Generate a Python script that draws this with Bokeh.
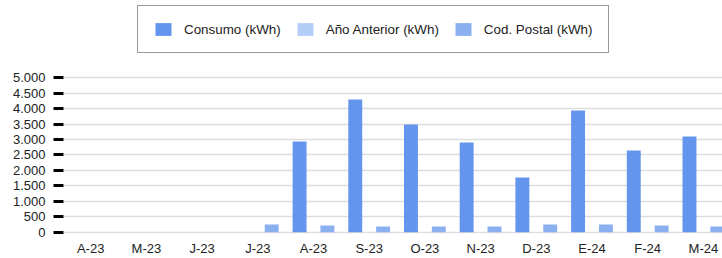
from bokeh.plotting import figure
from bokeh.models import ColumnDataSource, Range1d, FixedTicker, Legend, LegendItem
from bokeh.transform import dodge
from bokeh.embed import file_html
from bokeh.resources import INLINE

# ---- data ----
months = ["A-23", "M-23", "J-23", "J-23", "A-23", "S-23", "O-23", "N-23", "D-23", "E-24", "F-24", "M-24"]
consumo = [0, 0, 0, 0, 2936, 4296, 3487, 2904, 1770, 3940, 2645, 3098]
anio_anterior = [0, 0, 0, 0, 0, 0, 0, 0, 0, 0, 0, 0]
cod_postal = [0, 0, 0, 250, 215, 185, 185, 185, 250, 250, 215, 185]
y_ticks = [0, 500, 1000, 1500, 2000, 2500, 3000, 3500, 4000, 4500, 5000]
y_tick_labels = ["0", "500", "1.000", "1.500", "2.000", "2.500", "3.000", "3.500", "4.000", "4.500", "5.000"]
series_names = ["Consumo (kWh)", "Año Anterior (kWh)", "Cod. Postal (kWh)"]

FONT = "Liberation Sans"
TEXT = "#222222"
C_CONSUMO = "#6495ed"
C_ANIO = "#b3cdf6"
C_COD = "#8ab0f0"

xs = list(range(len(months)))
src = ColumnDataSource(dict(x=xs, consumo=consumo, anio=anio_anterior, cod=cod_postal))

p = figure(width=722, height=258, output_backend="svg", toolbar_location=None,
           x_range=Range1d(-0.488, 11.343), y_range=Range1d(-42, 7503),
           min_border_left=63, min_border_right=0, min_border_top=0, min_border_bottom=0)
p.outline_line_color = None
p.background_fill_color = "white"
p.border_fill_color = "white"

w = 0.25
r1 = p.vbar(x=dodge("x", -0.25), top="consumo", width=w, source=src, fill_color=C_CONSUMO, line_color=None)
r2 = p.vbar(x=dodge("x", 0.0), top="anio", width=w, source=src, fill_color=C_ANIO, line_color=None)
r3 = p.vbar(x=dodge("x", 0.25), top="cod", width=w, source=src, fill_color=C_COD, line_color=None)

# y axis
p.yaxis.ticker = FixedTicker(ticks=y_ticks)
p.yaxis.major_label_overrides = {t: l for t, l in zip(y_ticks, y_tick_labels)}
p.yaxis.axis_line_color = None
p.yaxis.major_tick_line_color = "black"
p.yaxis.major_tick_line_width = 3
p.yaxis.major_tick_out = 10
p.yaxis.major_tick_in = 0
p.yaxis.minor_tick_line_color = None
p.yaxis.major_label_standoff = 8
p.yaxis.major_label_text_font = FONT
p.yaxis.major_label_text_font_size = "13px"
p.yaxis.major_label_text_color = TEXT

# x axis
p.xaxis.ticker = FixedTicker(ticks=xs)
p.xaxis.major_label_overrides = {i: m for i, m in zip(xs, months)}
p.xaxis.axis_line_color = None
p.xaxis.major_tick_line_color = None
p.xaxis.minor_tick_line_color = None
p.xaxis.major_tick_out = 0
p.xaxis.major_tick_in = 0
p.xaxis.major_label_standoff = 7
p.xaxis.major_label_text_font = FONT
p.xaxis.major_label_text_font_size = "13px"
p.xaxis.major_label_text_color = TEXT

p.xgrid.grid_line_color = None
p.ygrid.grid_line_color = "#dddddd"
p.ygrid.grid_line_width = 1.3

legend = Legend(items=[LegendItem(label=series_names[0], renderers=[r1]),
                       LegendItem(label=series_names[1], renderers=[r2]),
                       LegendItem(label=series_names[2], renderers=[r3])],
                orientation="horizontal", location=(74, 180),
                glyph_width=20, glyph_height=16, label_standoff=11, spacing=14,
                padding=15, margin=0,
                border_line_color="#333333", border_line_width=1,
                background_fill_color="white", background_fill_alpha=1,
                label_text_font=FONT, label_text_font_size="13.4px", label_text_color=TEXT)
p.add_layout(legend, "center")

open("out.html", "w").write(file_html(p, INLINE))
